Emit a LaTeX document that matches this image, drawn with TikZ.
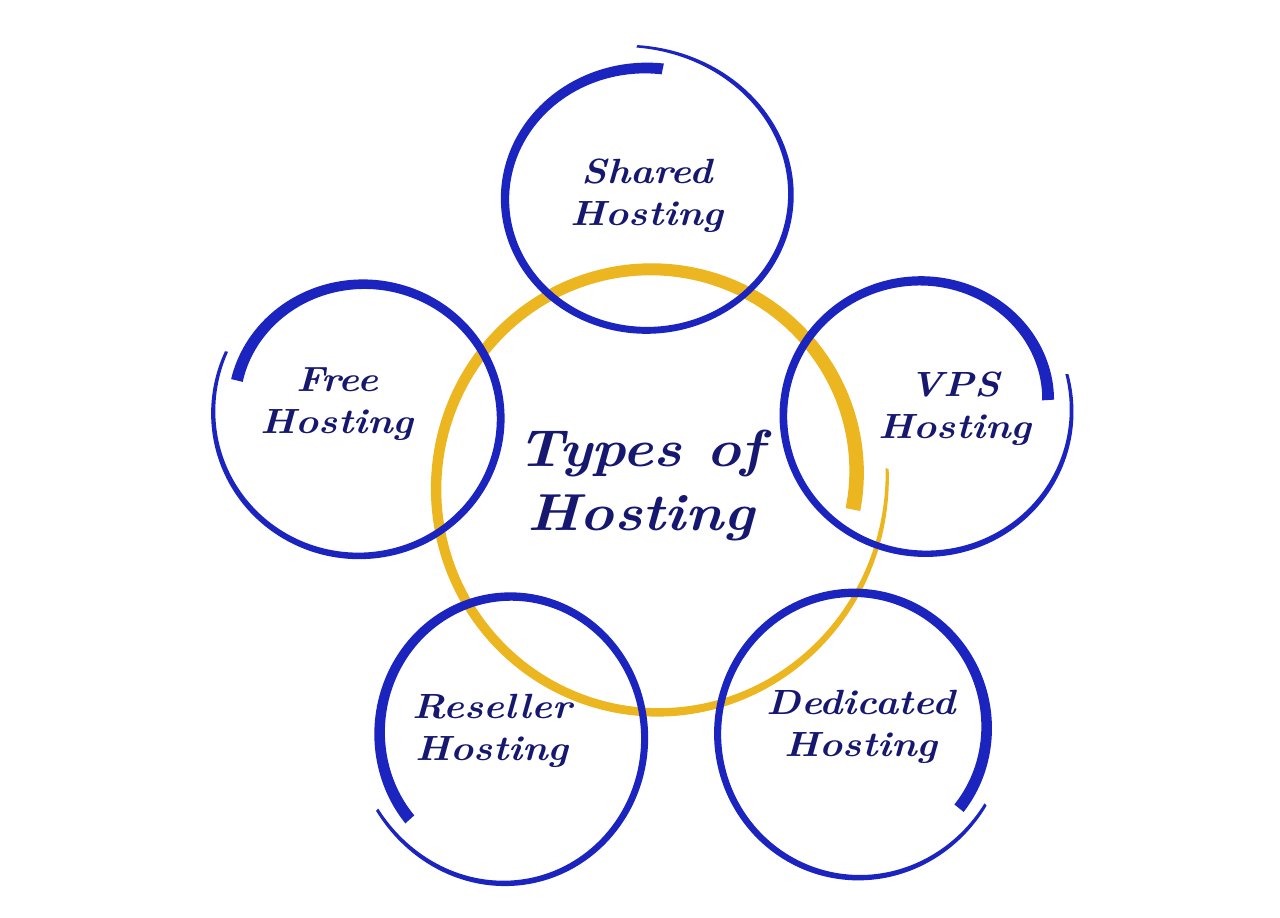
\documentclass[tikz,border=0pt]{standalone}
\definecolor{ringblue}{RGB}{28,36,192}
\definecolor{textblue}{RGB}{22,24,112}
\definecolor{ringgold}{RGB}{236,182,32}
% brush ring: #1 fill style, #2 parameter definitions
\newcommand\rgwidth{(\rgWm+(\rgWa-\rgWm)*(1-\x)^3-(\rgWm-\rgWb)*\x^5)}
\newcommand\brushring[2]{\begingroup#2%
 \fill[#1] plot[domain=0:1,samples=200]
  ({\rgCx+(\rgRx-\rgA*(1-\x)^6+\rgB*\x^6+\rgwidth/2)*cos(\rgS+\rgW*\x)},
   {\rgCy+(\rgRy-\rgA*(1-\x)^6+\rgB*\x^6+\rgwidth/2)*sin(\rgS+\rgW*\x)})
  -- plot[domain=1:0,samples=200]
  ({\rgCx+(\rgRx-\rgA*(1-\x)^6+\rgB*\x^6-\rgwidth/2)*cos(\rgS+\rgW*\x)},
   {\rgCy+(\rgRy-\rgA*(1-\x)^6+\rgB*\x^6-\rgwidth/2)*sin(\rgS+\rgW*\x)})
  -- cycle;\endgroup}
\newcommand\rgset[9]{\def\rgCx{#1}\def\rgCy{#2}\def\rgRx{#3}\def\rgRy{#4}\def\rgA{#5}\def\rgB{#6}\def\rgS{#7}\def\rgW{#8}\def\rgWa{#9}}
\tikzset{
  lbl/.style={text=textblue, font=\fontsize{35}{42}\selectfont\bfseries\itshape, align=center, xscale=1.12, transform shape, inner sep=0pt},
  biglbl/.style={text=textblue, font=\fontsize{52}{64}\selectfont\bfseries\itshape, align=center, xscale=1.12, transform shape, inner sep=0pt}
}
\begin{document}
\begin{tikzpicture}[x=1pt,y=-1pt]
\useasboundingbox (0,0) rectangle (1280,918);
\fill[white] (0,0) rectangle (1280,918);
% central gold ring
\brushring{ringgold}{\rgset{655}{488}{219}{222}{20}{14}{6.3}{-371.2}{15}\def\rgWm{10}\def\rgWb{3}}
% outer blue rings
\brushring{ringblue}{\rgset{646}{199}{141}{131}{0}{22}{-83}{-370.4}{11}\def\rgWm{6.5}\def\rgWb{2.5}}
\brushring{ringblue}{\rgset{360}{418}{141}{137}{12}{9}{-162.7}{370}{12}\def\rgWm{7}\def\rgWb{3}}
\brushring{ringblue}{\rgset{925}{415}{142}{138}{18}{6}{-7}{-369.7}{12}\def\rgWm{7}\def\rgWb{3}}
\brushring{ringblue}{\rgset{510}{737}{134}{141}{7}{16}{141.9}{370.7}{12}\def\rgWm{7}\def\rgWb{3}}
\brushring{ringblue}{\rgset{855}{733}{137}{141}{10}{11}{35.2}{-367.3}{12}\def\rgWm{7}\def\rgWb{3}}
% labels
\node[lbl] (shared) at (647,196) {Shared\\Hosting};
\node[lbl] (free) at (337,404) {Free\\Hosting};
\node[lbl] (vps) at (955,409) {VPS\\Hosting};
\node[lbl] (reseller) at (492,731) {Reseller\\Hosting};
\node[lbl] (dedicated) at (861,727) {Dedicated\\Hosting};
\node[biglbl] (types) at (641,485) {Types of\\Hosting};
\end{tikzpicture}
\end{document}
